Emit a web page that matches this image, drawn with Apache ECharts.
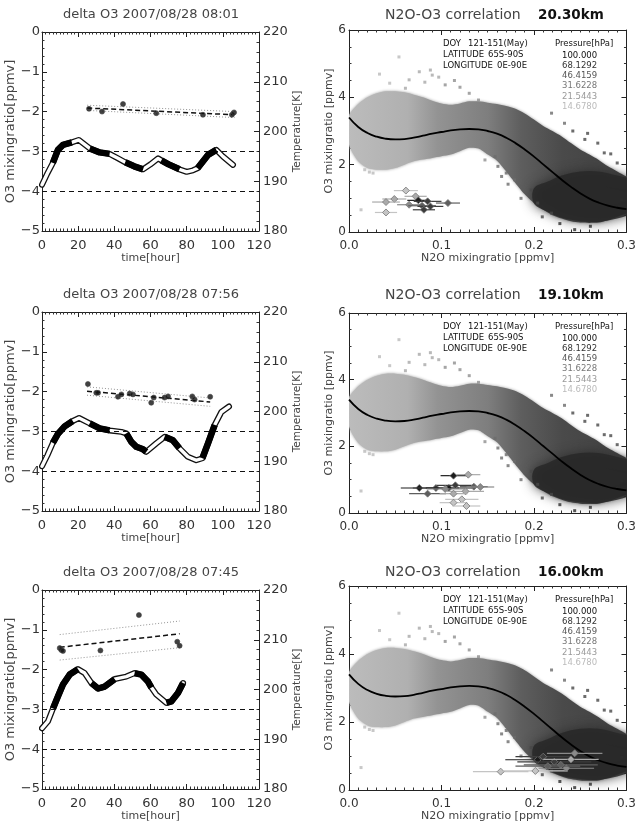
<!DOCTYPE html>
<html><head><meta charset="utf-8">
<script src="https://cdn.jsdelivr.net/npm/echarts@6/dist/echarts.min.js"></script>
<style>html,body{margin:0;padding:0;background:#fff}#c{width:639px;height:823px}</style>
</head><body><div id="c"></div>
<script>
// ---------------- DATA ----------------
// Left panels: temperature trajectory (K), time (hour); black flag per segment
const p1Time = [0,3,6,8.8,11.6,16.5,20.3,26.4,31.9,37.4,42,46,51,55.9,60,64.2,66,70,76,80,83.5,86,91.8,96.4,100,105.6];
const p1Temp = [189.3,191.6,193.7,196.3,197.3,197.8,198.3,196.6,195.8,195.5,194.6,193.8,193.0,192.4,193.4,194.6,194.2,193.4,192.4,191.9,192.2,192.6,195.3,196.3,195.0,193.3];
const p1Black = [0,0,1,1,1,0,0,1,1,0,0,1,1,0,0,0,1,1,0,0,0,1,1,0,0];

const p2Time = [0,3,6,8.8,12.5,17,20.5,26.4,31.9,37.4,43.9,46.6,49.4,52.2,55.9,57.7,63.2,67.8,72.4,76,80.7,85.3,88.7,91.8,95.5,99.2,103.4];
const p2Temp = [189.0,191.2,193.7,195.5,197.0,198.1,198.7,197.6,196.6,196.2,195.9,195.6,193.9,192.9,192.4,191.9,193.6,194.9,194.2,192.6,190.9,190.2,190.6,193.6,197.3,199.9,201.0];
const p2Black = [0,0,1,1,1,0,0,1,1,0,0,1,1,1,1,0,0,1,1,0,0,0,1,1,0,0];

const p3Time = [0,3.3,6.1,8.8,11.6,15.3,19.9,23.6,27.3,31,34.7,40.2,46.6,51.2,54.9,58.6,60.5,63.2,68.8,71.5,75.2,78];
const p3Temp = [192.2,193.6,196.2,198.6,201.0,203.0,204.1,203.3,201.3,200.2,200.6,202.1,202.6,203.3,203.0,201.6,200.4,199.0,197.3,197.6,199.3,201.3];
const p3Black = [0,0,1,1,1,1,0,0,1,1,1,0,0,1,1,1,0,0,1,1,1];

// delta O3 observations (ppmv)
const p1DotTime = [26,33.2,44.8,63.2,89,105,106.2];
const p1DotO3 = [-1.93,-2.0,-1.81,-2.04,-2.08,-2.08,-2.02];
const p2DotTime = [25.4,30,31,42,43.9,48.5,50.3,60.4,61.8,67.8,69.7,83.1,84.4,93];
const p2DotO3 = [-1.81,-2.03,-2.03,-2.13,-2.07,-2.05,-2.07,-2.28,-2.15,-2.15,-2.12,-2.12,-2.2,-2.13];
const p3DotTime = [9.8,10.7,11.6,32.3,53.6,74.8,76.1];
const p3DotO3 = [-1.46,-1.51,-1.53,-1.52,-0.63,-1.3,-1.4];

// regression line and envelope (endpoints)
const p1FitTime = [25,106.5], p1FitO3 = [-1.91,-2.08], p1FitUp = [-1.84,-2.0], p1FitLo = [-1.97,-2.15];
const p2FitTime = [24.9,93], p2FitO3 = [-1.99,-2.26], p2FitUp = [-1.88,-2.16], p2FitLo = [-2.09,-2.37];
const p3FitTime = [9.8,76.1], p3FitO3 = [-1.44,-1.1], p3FitUp = [-1.12,-0.78], p3FitLo = [-1.76,-1.45];

const o3RefLevels = [-3,-4];
const leftTitles = ['delta O3 2007/08/28 08:01','delta O3 2007/08/28 07:56','delta O3 2007/08/28 07:45'];

// Right panels: N2O-O3 climatology cloud (envelope) and dark lower-right core
const cloudX  = [0,0.01,0.02,0.03,0.04,0.05,0.06,0.07,0.08,0.09,0.1,0.11,0.12,0.13,0.14,0.15,0.16,0.17,0.18,0.19,0.2,0.21,0.22,0.23,0.24,0.25,0.26,0.27,0.28,0.29,0.3,0.31,0.32];
const cloudUp = [3.45,3.8,4.0,4.12,4.18,4.18,4.15,4.08,4.0,3.9,3.82,3.78,3.82,3.88,3.88,3.84,3.8,3.74,3.66,3.52,3.34,3.15,3.0,2.84,2.64,2.45,2.3,2.14,1.95,1.8,1.65,1.5,1.4];
const cloudLo = [2.6,2.1,1.9,1.85,1.85,1.9,2.0,2.1,2.15,2.2,2.25,2.3,2.4,2.5,2.48,2.3,2.12,1.8,1.45,1.12,0.86,0.66,0.5,0.4,0.32,0.28,0.27,0.28,0.35,0.45,0.55,0.6,0.65];
const coreX  = [0.2,0.215,0.23,0.25,0.27,0.29,0.31,0.33];
const coreUp = [1.3,1.5,1.68,1.8,1.8,1.68,1.55,1.45];
const coreLo = [0.85,0.6,0.42,0.32,0.3,0.4,0.55,0.6];

const cloudOutN2O = [0.054,0.033,0.044,0.061,0.065,0.076,0.088,0.09,0.097,0.114,0.104,0.13,0.14,0.013,0.004,0.017,0.026,0.283,0.269,0.258,0.233,0.219,0.161,0.17,0.179,0.197,0.204,0.219,0.244,0.261,0.295,0.147,0.158,0.186,0.172,0.165,0.242,0.255,0.276,0.29,0.228,0.209,0.12,0.082,0.022];
const cloudOutO3 = [5.2,4.69,4.42,4.27,4.52,4.76,4.81,4.66,4.6,4.5,4.37,4.12,3.92,0.66,3.13,1.85,1.75,2.32,2.64,2.93,3.23,3.53,1.95,1.75,1.55,1.25,0.86,0.56,0.07,0.17,0.96,2.14,2.24,1.0,1.42,1.65,3.0,2.75,2.35,2.05,0.25,0.45,4.3,4.45,1.78];
const cloudOutLevel = [5,5,5,4,4,4,4,4,4,3,3,3,3,5,5,5,5,1,1,1,2,2,2,2,2,1,1,1,0,0,0,3,2,2,2,2,1,1,1,1,0,1,3,4,5];

const fitN2O = [0,0.01,0.02,0.03,0.04,0.05,0.06,0.07,0.08,0.09,0.1,0.11,0.12,0.13,0.14,0.15,0.16,0.17,0.18,0.19,0.2,0.21,0.22,0.23,0.24,0.25,0.26,0.27,0.28,0.29,0.3];
const fitO3 = [3.4,3.12,2.94,2.83,2.77,2.75,2.76,2.8,2.86,2.92,2.97,3.02,3.05,3.06,3.05,3.0,2.92,2.8,2.64,2.45,2.24,2.01,1.78,1.55,1.34,1.15,0.99,0.87,0.78,0.72,0.68];

// ILAS obs with N2O error: n2o, o3, err, pressure level index
const r1N2O = [0.0615,0.049,0.040,0.040,0.072,0.065,0.075,0.085,0.079,0.088,0.081,0.107];
const r1O3 = [1.23,0.98,0.89,0.58,1.06,0.81,0.94,0.91,0.78,0.76,0.66,0.86];
const r1Err = [0.013,0.013,0.015,0.012,0.012,0.013,0.012,0.015,0.015,0.014,0.012,0.013];
const r1Lev = [5,4,4,5,4,3,0,1,2,1,1,2];
const r2N2O = [0.113,0.129,0.076,0.094,0.108,0.115,0.135,0.085,0.104,0.126,0.113,0.122,0.113,0.127,0.142];
const r2O3 = [1.12,1.15,0.75,0.75,0.75,0.83,0.79,0.58,0.72,0.65,0.58,0.41,0.31,0.21,0.78];
const r2Err = [0.014,0.013,0.02,0.025,0.025,0.02,0.015,0.02,0.02,0.02,0.015,0.018,0.015,0.015,0.015];
const r2Lev = [0,4,0,1,0,1,2,2,3,4,4,5,5,5,3];
const r3N2O = [0.164,0.2015,0.244,0.204,0.222,0.21,0.229,0.235,0.215,0.24];
const r3O3 = [0.54,0.56,1.08,0.89,0.83,0.98,0.74,0.64,0.70,0.90];
const r3Err = [0.03,0.035,0.03,0.035,0.04,0.03,0.04,0.03,0.035,0.03];
const r3Lev = [5,5,3,0,1,1,2,3,2,4];

const rightKm = ['20.30km','19.10km','16.00km'];
const infoLabels = ['DOY','LATITUDE','LONGITUDE'];
const infoValues = ['121-151(May)','65S-90S','0E-90E'];
const pressureLevels = ['100.000','68.1292','46.4159','31.6228','21.5443','14.6780'];

// ---------------- STYLE / LAYOUT ----------------
const FONT = 'DejaVu Sans';
const TXT = '#333';
const levelColors = ['#1c1c1c','#3c3c3c','#5e5e5e','#8a8a8a','#aaaaaa','#c4c4c4'];
const cloudColors = ['#2c2c2c','#474747','#6b6b6b','#8e8e8e','#a8a8a8','#bababa'];
const legendColors = ['#111','#333','#555','#777','#999','#bbb'];
const leftTops = [32,312,590], leftH = 199;
const rightTops = [30,313,586], rightHs = [202,200,204];
const leftTitleY = [15,295,573], rightTitleY = [15,295,572];

const grid = [], xAxis = [], yAxis = [], series = [], graphic = [];

function base(extra) {
  return Object.assign({
    type: 'value',
    axisLine: {show: true, onZero: false, lineStyle: {color: '#222', width: 1}},
    axisTick: {show: true, inside: true, length: 5, lineStyle: {color: '#222'}},
    minorTick: {show: true, length: 2.5, lineStyle: {color: '#333'}},
    splitLine: {show: false}, minorSplitLine: {show: false},
    axisLabel: {show: false}
  }, extra);
}
const minusFmt = v => (v < 0 ? '\u2212' + Math.abs(v) : String(v));

function runs(ts, vs, flags) {
  const out = []; let cur = null;
  for (let i = 0; i < flags.length; i++) {
    if (flags[i]) {
      if (!cur) { cur = [[ts[i], vs[i]]]; out.push(cur); }
      cur.push([ts[i + 1], vs[i + 1]]);
    } else cur = null;
  }
  return out;
}

const leftData = [
  {t: p1Time, T: p1Temp, b: p1Black, dt: p1DotTime, dy: p1DotO3, ft: p1FitTime, fy: p1FitO3, fu: p1FitUp, fl: p1FitLo},
  {t: p2Time, T: p2Temp, b: p2Black, dt: p2DotTime, dy: p2DotO3, ft: p2FitTime, fy: p2FitO3, fu: p2FitUp, fl: p2FitLo},
  {t: p3Time, T: p3Temp, b: p3Black, dt: p3DotTime, dy: p3DotO3, ft: p3FitTime, fy: p3FitO3, fu: p3FitUp, fl: p3FitLo}
];

leftData.forEach((d, i) => {
  const gi = grid.length;
  grid.push({left: 42, top: leftTops[i], width: 217, height: leftH});
  const xb = xAxis.length;
  xAxis.push(base({gridIndex: gi, position: 'bottom', min: 0, max: 120, interval: 20,
    minorTick: {show: true, splitNumber: 10, length: 2.5, lineStyle: {color: '#333'}},
    axisLabel: {show: true, margin: 8, color: TXT, fontSize: 13, fontFamily: FONT},
    name: 'time[hour]', nameLocation: 'middle', nameGap: 21,
    nameTextStyle: {color: '#444', fontSize: 11, fontFamily: FONT}}));
  xAxis.push(base({gridIndex: gi, position: 'top', min: 0, max: 120, interval: 20,
    minorTick: {show: true, splitNumber: 10, length: 2.5, lineStyle: {color: '#333'}}}));
  const yl = yAxis.length;
  yAxis.push(base({gridIndex: gi, position: 'left', min: -5, max: 0, interval: 1,
    minorTick: {show: true, splitNumber: 5, length: 2.5, lineStyle: {color: '#333'}},
    axisLabel: {show: true, margin: 2, color: TXT, fontSize: 13, fontFamily: FONT, formatter: minusFmt},
    name: 'O3 mixingratio[ppmv]', nameLocation: 'middle', nameGap: 19, nameRotate: 90,
    nameTextStyle: {color: '#444', fontSize: 13, fontFamily: FONT}}));
  const yr = yAxis.length;
  yAxis.push(base({gridIndex: gi, position: 'right', min: 180, max: 220, interval: 10,
    minorTick: {show: true, splitNumber: 5, length: 2.5, lineStyle: {color: '#333'}},
    axisLabel: {show: true, margin: 4, color: TXT, fontSize: 13, fontFamily: FONT},
    name: 'Temperature[K]', nameLocation: 'middle', nameGap: 19, nameRotate: 90,
    nameTextStyle: {color: '#444', fontSize: 10.5, fontFamily: FONT}}));

  const traj = d.t.map((t, k) => [t, d.T[k]]);
  series.push({type: 'line', xAxisIndex: xb, yAxisIndex: yl, data: [], silent: true,
    markLine: {silent: true, symbol: 'none', label: {show: false},
      lineStyle: {type: [5, 4], color: '#111', width: 1.2},
      data: o3RefLevels.map(v => ({yAxis: v}))}});
  series.push({type: 'line', xAxisIndex: xb, yAxisIndex: yr, data: traj, symbol: 'none', z: 3,
    lineStyle: {color: '#111', width: 6, cap: 'round', join: 'round'}});
  series.push({type: 'line', xAxisIndex: xb, yAxisIndex: yr, data: traj, symbol: 'none', z: 4,
    lineStyle: {color: '#fff', width: 3.4, cap: 'round', join: 'round'}});
  runs(d.t, d.T, d.b).forEach(seg => {
    series.push({type: 'line', xAxisIndex: xb, yAxisIndex: yr, data: seg, symbol: 'none', z: 5,
      lineStyle: {color: '#000', width: 6.5, cap: 'butt', join: 'round'}});
  });
  series.push({type: 'line', xAxisIndex: xb, yAxisIndex: yl, symbol: 'none', z: 6,
    data: d.ft.map((t, k) => [t, d.fy[k]]), lineStyle: {color: '#111', width: 1.5, type: [5, 3]}});
  series.push({type: 'line', xAxisIndex: xb, yAxisIndex: yl, symbol: 'none', z: 6,
    data: d.ft.map((t, k) => [t, d.fu[k]]), lineStyle: {color: '#777', width: 0.8, type: [1, 2]}});
  series.push({type: 'line', xAxisIndex: xb, yAxisIndex: yl, symbol: 'none', z: 6,
    data: d.ft.map((t, k) => [t, d.fl[k]]), lineStyle: {color: '#777', width: 0.8, type: [1, 2]}});
  series.push({type: 'scatter', xAxisIndex: xb, yAxisIndex: yl, z: 7,
    data: d.dt.map((t, k) => [t, d.dy[k]]), symbol: 'circle', symbolSize: 5,
    itemStyle: {color: '#111', borderColor: '#444', borderWidth: 0.8}});

  graphic.push({type: 'text', x: 151, y: leftTitleY[i], z: 100,
    style: {text: leftTitles[i], fill: '#444', font: '13px "DejaVu Sans"', textAlign: 'center', textVerticalAlign: 'middle'}});
});

const rightObs = [
  {x: r1N2O, y: r1O3, e: r1Err, l: r1Lev},
  {x: r2N2O, y: r2O3, e: r2Err, l: r2Lev},
  {x: r3N2O, y: r3O3, e: r3Err, l: r3Lev}
];

function polyPts(api, xs, up, lo) {
  const pts = [];
  xs.forEach((x, k) => pts.push(api.coord([x, up[k]])));
  for (let k = xs.length - 1; k >= 0; k--) pts.push(api.coord([xs[k], lo[k]]));
  return pts;
}

rightObs.forEach((ob, j) => {
  const gi = grid.length;
  const top = rightTops[j];
  grid.push({left: 349, top: top, width: 280, height: rightHs[j]});
  const xb = xAxis.length;
  xAxis.push(base({gridIndex: gi, position: 'bottom', min: 0, max: 0.3, interval: 0.1,
    minorTick: {show: true, splitNumber: 10, length: 2.5, lineStyle: {color: '#333'}},
    axisLabel: {show: true, margin: 8, color: TXT, fontSize: 12, fontFamily: FONT, formatter: v => v.toFixed(1)},
    name: 'N2O mixingratio [ppmv]', nameLocation: 'middle', nameGap: 20,
    nameTextStyle: {color: '#444', fontSize: 11, fontFamily: FONT}}));
  xAxis.push(base({gridIndex: gi, position: 'top', min: 0, max: 0.3, interval: 0.1,
    minorTick: {show: true, splitNumber: 10, length: 2.5, lineStyle: {color: '#333'}}}));
  const yl = yAxis.length;
  yAxis.push(base({gridIndex: gi, position: 'left', min: 0, max: 6, interval: 2,
    minorTick: {show: true, splitNumber: 4, length: 2.5, lineStyle: {color: '#333'}},
    axisLabel: {show: true, margin: 3, color: TXT, fontSize: 12, fontFamily: FONT},
    name: 'O3 mixingratio [ppmv]', nameLocation: 'middle', nameGap: 9, nameRotate: 90,
    nameTextStyle: {color: '#444', fontSize: 11, fontFamily: FONT}}));
  yAxis.push(base({gridIndex: gi, position: 'right', min: 0, max: 6, interval: 2,
    minorTick: {show: true, splitNumber: 4, length: 2.5, lineStyle: {color: '#333'}}}));

  // cloud envelope with horizontal grey gradient (light at low N2O, dark at high N2O)
  series.push({type: 'custom', xAxisIndex: xb, yAxisIndex: yl, z: 1, silent: true, clip: true,
    data: [[cloudX[0], cloudUp[0]]],
    renderItem: (params, api) => ({
      type: 'polygon', shape: {points: polyPts(api, cloudX, cloudUp, cloudLo), smooth: 0.25},
      style: {
        fill: new echarts.graphic.LinearGradient(0, 0, 1, 0, [
          {offset: 0, color: '#bcbcbc'}, {offset: 0.2, color: '#b0b0b0'},
          {offset: 0.3, color: '#939393'}, {offset: 0.47, color: '#7e7e7e'},
          {offset: 0.58, color: '#5e5e5e'}, {offset: 0.72, color: '#4a4a4a'},
          {offset: 1, color: '#3e3e3e'}]),
        shadowBlur: 3, shadowColor: '#999'}
    })});
  series.push({type: 'custom', xAxisIndex: xb, yAxisIndex: yl, z: 1, silent: true, clip: true,
    data: [[coreX[0], coreUp[0]]],
    renderItem: (params, api) => ({
      type: 'polygon', shape: {points: polyPts(api, coreX, coreUp, coreLo), smooth: 0.35},
      style: {fill: 'rgba(40,40,40,0.85)', shadowBlur: 12, shadowColor: 'rgba(40,40,40,0.9)'}
    })});
  series.push({type: 'scatter', xAxisIndex: xb, yAxisIndex: yl, z: 2, silent: true,
    data: cloudOutN2O.map((x, k) => ({value: [x, cloudOutO3[k]], itemStyle: {color: cloudColors[cloudOutLevel[k]]}})),
    symbol: 'rect', symbolSize: 3});
  series.push({type: 'line', xAxisIndex: xb, yAxisIndex: yl, z: 3, symbol: 'none', smooth: true,
    data: fitN2O.map((x, k) => [x, fitO3[k]]), lineStyle: {color: '#000', width: 1.8}});
  series.push({type: 'custom', xAxisIndex: xb, yAxisIndex: yl, z: 4,
    data: ob.x.map((x, k) => [x, ob.y[k], ob.e[k], ob.l[k]]),
    renderItem: (params, api) => {
      const x = api.value(0), y = api.value(1), e = api.value(2), lv = api.value(3);
      const a = api.coord([x - e, y]), b = api.coord([x + e, y]), c = api.coord([x, y]);
      const col = levelColors[lv];
      return {type: 'group', children: [
        {type: 'line', shape: {x1: a[0], y1: a[1], x2: b[0], y2: b[1]}, style: {stroke: col, lineWidth: 1.2}},
        {type: 'polygon', shape: {points: [[c[0], c[1] - 3.5], [c[0] + 3.5, c[1]], [c[0], c[1] + 3.5], [c[0] - 3.5, c[1]]]},
          style: {fill: col, stroke: '#777', lineWidth: 0.8}}
      ]};
    }});

  graphic.push({type: 'text', x: 385, y: rightTitleY[j], z: 100,
    style: {text: 'N2O-O3 correlation', fill: '#444', font: '14px "DejaVu Sans"', textVerticalAlign: 'middle'}});
  graphic.push({type: 'text', x: 538, y: rightTitleY[j], z: 100,
    style: {text: rightKm[j], fill: '#111', font: 'bold 13.5px "DejaVu Sans"', textVerticalAlign: 'middle'}});
  const infoX = [468, 488, 497];
  infoLabels.forEach((s, k) => {
    const yy = top + 14 + k * 10.8;
    graphic.push({type: 'text', x: 443, y: yy, z: 100, style: {text: s, fill: '#111', font: '8.5px "DejaVu Sans"', textVerticalAlign: 'middle'}});
    graphic.push({type: 'text', x: infoX[k], y: yy, z: 100, style: {text: infoValues[k], fill: '#111', font: '8.5px "DejaVu Sans"', textVerticalAlign: 'middle'}});
  });
  graphic.push({type: 'text', x: 555, y: top + 14, z: 100, style: {text: 'Pressure[hPa]', fill: '#111', font: '8.5px "DejaVu Sans"', textVerticalAlign: 'middle'}});
  pressureLevels.forEach((s, k) => {
    graphic.push({type: 'text', x: 562, y: top + 25.5 + k * 10.2, z: 100,
      style: {text: s, fill: legendColors[k], font: '8.5px "DejaVu Sans"', textVerticalAlign: 'middle'}});
  });
});

const chart = echarts.init(document.getElementById('c'), null, {renderer: 'canvas'});
chart.setOption({
  animation: false,
  backgroundColor: '#fff',
  textStyle: {fontFamily: FONT},
  grid, xAxis, yAxis, series, graphic
});
</script></body></html>
